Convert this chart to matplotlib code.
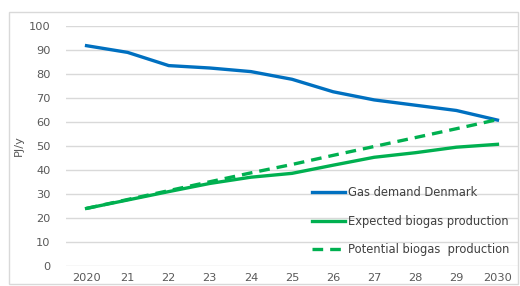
import matplotlib.pyplot as plt
from matplotlib.patches import Rectangle

# data
years = ["2020", "21", "22", "23", "24", "25", "26", "27", "28", "29", "2030"]
gas_demand = [91.8, 89, 83.5, 82.5, 81, 77.8, 72.6, 69.2, 67, 64.8, 60.8]
expected_biogas = [24, 27.5, 31, 34.4, 37, 38.6, 42, 45.3, 47.2, 49.5, 50.7]
potential_biogas = [24, 27.7, 31.4, 35.1, 38.8, 42.3, 46.1, 49.8, 53.5, 57.2, 61]

txt = "#595959"
fig = plt.figure(figsize=(5.2, 2.86), dpi=100)
ax = fig.add_axes([66 / 520, 20 / 286, 452 / 520, 240 / 286])

# thin border round the whole chart
fig.patches.append(Rectangle((9 / 520, 2 / 286), 509 / 520, 272 / 286,
                             transform=fig.transFigure, fill=False,
                             edgecolor="#D9D9D9", linewidth=1))

x = range(len(years))
ax.plot(x, gas_demand, color="#0070C0", lw=2.4, label="Gas demand Denmark")
ax.plot(x, expected_biogas, color="#00B050", lw=2.4, label="Expected biogas production")
ax.plot(x, potential_biogas, color="#00B050", lw=2.4, dashes=[3.2, 2.1],
        label="Potential biogas  production")

ax.set_xlim(-0.5, len(years) - 0.5)
ax.set_ylim(0, 100)
ax.set_yticks(range(0, 101, 10))
ax.set_xticks(list(x))
ax.set_xticklabels(years)
ax.grid(axis="y", color="#D9D9D9", lw=1)
ax.set_axisbelow(True)
for s in ax.spines.values():
    s.set_visible(False)
ax.tick_params(length=0, labelsize=8.2, colors=txt, pad=10)
ax.tick_params(axis="y", pad=11)
ax.tick_params(axis="x", pad=5)
ax.set_ylabel("PJ/y", fontsize=8.2, color=txt, labelpad=4)

leg = ax.legend(loc="upper left", bbox_to_anchor=(312 / 520, 1 - 186 / 286),
                bbox_transform=fig.transFigure, frameon=False, fontsize=8.3,
                handlelength=2.9, handletextpad=0.25, labelspacing=1.35,
                borderpad=0, borderaxespad=0)
for t in leg.get_texts():
    t.set_color("#404040")

fig.savefig("out.png", dpi=100)
